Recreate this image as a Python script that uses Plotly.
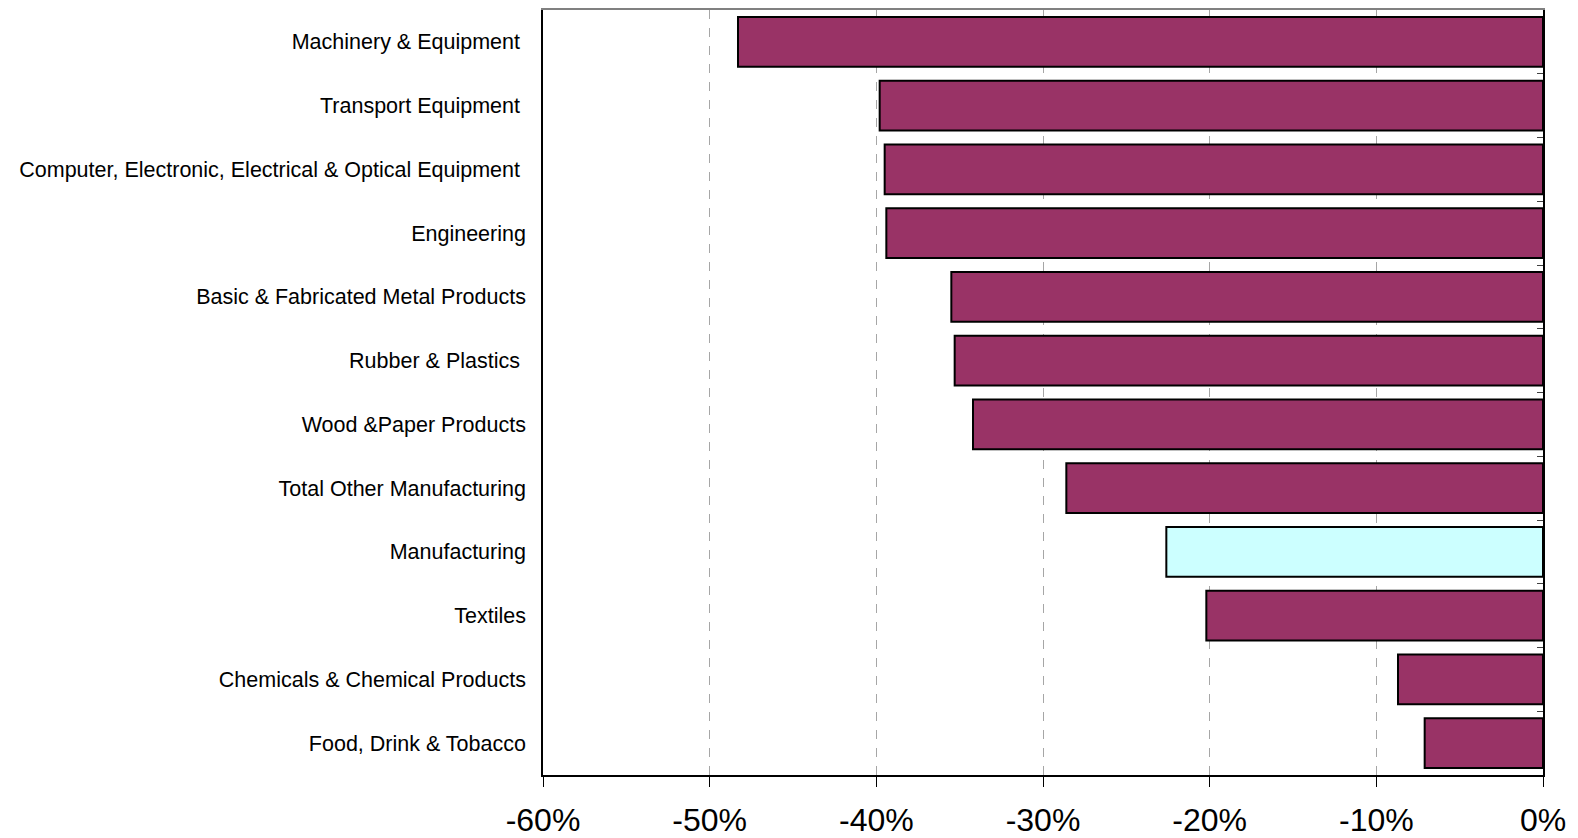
import plotly.graph_objects as go

categories = [
    "Machinery & Equipment\u00a0",
    "Transport Equipment\u00a0",
    "Computer, Electronic, Electrical & Optical Equipment\u00a0",
    "Engineering",
    "Basic & Fabricated Metal Products",
    "Rubber & Plastics\u00a0",
    "Wood &Paper Products",
    "Total Other Manufacturing",
    "Manufacturing",
    "Textiles",
    "Chemicals & Chemical Products",
    "Food, Drink & Tobacco",
]
values = [-48.3, -39.8, -39.5, -39.4, -35.5, -35.3, -34.2, -28.6, -22.6, -20.2, -8.7, -7.1]
highlight = "Manufacturing"

x_ticks = [-60, -50, -40, -30, -20, -10, 0]
x_tick_labels = ["-60%", "-50%", "-40%", "-30%", "-20%", "-10%", "0%"]

bar_color = "#993366"
highlight_color = "#CCFFFF"
colors = [highlight_color if c == highlight else bar_color for c in categories]

fig = go.Figure()
fig.add_trace(go.Bar(
    x=values, y=categories, orientation="h",
    marker=dict(color=colors, line=dict(color="#000000", width=2)),
    width=0.78, showlegend=False, hoverinfo="x+y",
))

n = len(categories)
boundaries = [i - 0.5 for i in range(n + 1)]
# invisible helper trace so the right-hand category axis is drawn
fig.add_trace(go.Scatter(x=[None], y=[None], xaxis="x2", yaxis="y2",
                         mode="markers", showlegend=False, hoverinfo="skip"))

fig.update_layout(
    width=1578, height=838,
    margin=dict(l=543, r=35, t=10, b=63, autoexpand=False),
    paper_bgcolor="white", plot_bgcolor="white",
    font=dict(family="Liberation Sans, Arial, sans-serif", color="#000000"),
    xaxis=dict(
        range=[-60, 0], tickvals=x_ticks, ticktext=x_tick_labels,
        showgrid=True, gridcolor="#A6A6A6", griddash="dash", gridwidth=1,
        showline=True, linecolor="#000000", linewidth=1.5,
        ticks="outside", ticklen=10, tickcolor="#000000", tickwidth=1,
        ticklabelstandoff=6,
        tickfont=dict(size=32, family="Liberation Sans, Arial, sans-serif"),
        zeroline=False, fixedrange=True, automargin=False,
    ),
    yaxis=dict(
        type="category", categoryorder="array", categoryarray=categories,
        range=[n - 0.5, -0.5],
        showline=True, linecolor="#000000", linewidth=1.5,
        ticks="", ticklabelstandoff=11,
        tickfont=dict(size=21.5, family="Liberation Sans, Arial, sans-serif"),
        showgrid=False, zeroline=False, fixedrange=True, automargin=False,
    ),
    xaxis2=dict(
        overlaying="x", side="top", range=[-60, 0],
        showline=True, linecolor="#808080", linewidth=1.5,
        showticklabels=False, ticks="", showgrid=False, zeroline=False,
        automargin=False,
    ),
    yaxis2=dict(
        overlaying="y", side="right", range=[n - 0.5, -0.5],
        tickvals=boundaries, showticklabels=False,
        ticks="inside", ticklen=6, tickcolor="#404040", tickwidth=1,
        showline=True, linecolor="#000000", linewidth=1.5,
        showgrid=False, zeroline=False, automargin=False,
    ),
)

fig.write_html(
    "out.html",
    config={"displayModeBar": False},
    post_script="document.body.style.margin='0';document.body.style.overflow='hidden';",
)
